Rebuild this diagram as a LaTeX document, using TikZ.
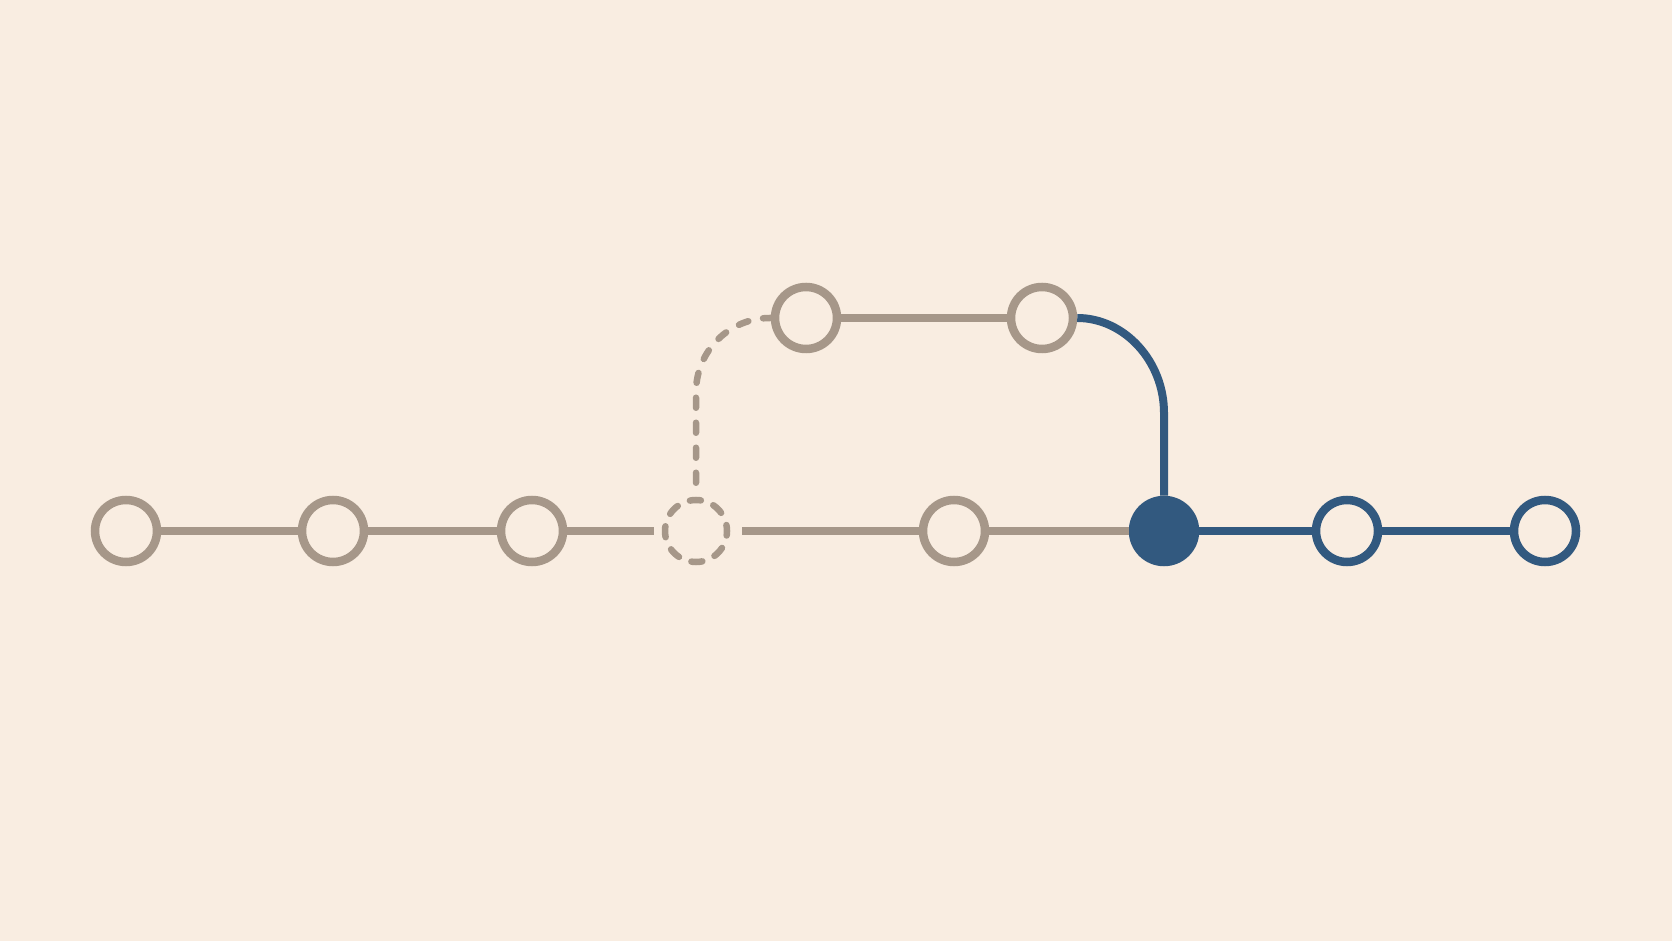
\documentclass[tikz,border=0pt]{standalone}
\usepackage{tikz}
\usetikzlibrary{positioning}
\definecolor{bgcol}{RGB}{249,237,225}
\definecolor{linegray}{RGB}{166,151,137}
\definecolor{lineblue}{RGB}{50,89,127}

\begin{document}
\begin{tikzpicture}[
  station/.style={circle,draw=linegray,fill=bgcol,line width=0.085cm,minimum size=0.62cm,inner sep=0pt},
  bluestation/.style={station,draw=lineblue},
  hubstation/.style={station,draw=lineblue,fill=lineblue},
  ghost/.style={circle,draw=linegray,line width=0.065cm,line cap=round,dash pattern=on 0.11cm off 0.134cm,dash phase=0.05cm,minimum size=0.62cm,inner sep=0pt},
  track/.style={line width=0.075cm,color=linegray},
  bluetrack/.style={line width=0.08cm,color=lineblue},
  ghosttrack/.style={line width=0.065cm,color=linegray,line cap=round,dash pattern=on 0.1cm off 0.15cm}]

\def\ylow{4.10}
\def\yhigh{6.23}

\useasboundingbox (0,0) rectangle (16.72,9.41);
\fill[bgcol] (0,0) rectangle (16.72,9.41);

\node[station] (s1) at (1.26,\ylow) {};
\node[station] (s2) at (3.33,\ylow) {};
\node[station] (s3) at (5.32,\ylow) {};
\node[ghost] (s4) at (6.96,\ylow) {};
\node[station] (s5) at (9.54,\ylow) {};
\node[hubstation] (hub) at (11.64,\ylow) {};
\node[bluestation] (s7) at (13.47,\ylow) {};
\node[bluestation] (s8) at (15.45,\ylow) {};
\node[station] (t1) at (8.06,\yhigh) {};
\node[station] (t2) at (10.42,\yhigh) {};
\coordinate (bend) at (11.64,5.28);

\draw[track] (s1) -- (s2);
\draw[track] (s2) -- (s3);
\draw[track,shorten >=0.08cm] (s3) -- (s4);
\draw[track,shorten <=0.12cm] (s4) -- (s5);
\draw[track] (s5) -- (hub);
\draw[bluetrack] (hub) -- (s7);
\draw[bluetrack] (s7) -- (s8);
\draw[track] (t1) -- (t2);

\draw[ghosttrack,rounded corners=0.74cm,shorten <=0.14cm] (s4.north) |- (t1.west);
\draw[bluetrack] (t2.east) .. controls +(0.47,0) and +(0,0.52) .. (bend) -- (hub.north);
\end{tikzpicture}
\end{document}
